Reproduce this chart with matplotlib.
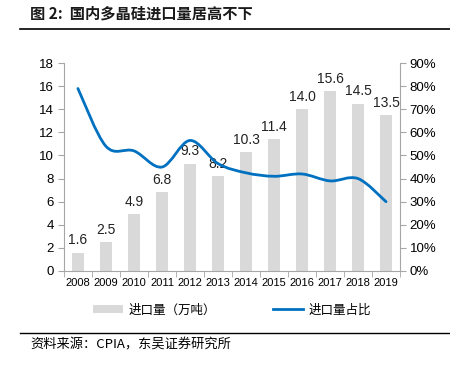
import matplotlib
matplotlib.use("Agg")
import matplotlib.pyplot as plt
from matplotlib.path import Path
from matplotlib.patches import PathPatch
from matplotlib.lines import Line2D
from matplotlib.patches import Patch
import numpy as np

plt.rcParams['font.family'] = ['Liberation Sans', 'Noto Sans CJK SC', 'DejaVu Sans']

years = ['2008', '2009', '2010', '2011', '2012', '2013', '2014', '2015', '2016', '2017', '2018', '2019']
import_volume = [1.6, 2.5, 4.9, 6.8, 9.3, 8.2, 10.3, 11.4, 14.0, 15.6, 14.5, 13.5]
import_share = [79, 54, 52, 45, 56.5, 46.5, 42.5, 41, 42, 39, 40, 30]

gray = '#d9d9d9'
blue = '#0070c0'
spine_c = '#a6a6a6'
cjk = ['Noto Sans CJK SC', 'DejaVu Sans']


def smooth_path(xs, ys, t=1 / 6):
    # Excel-like smoothed line: cubic bezier with Catmull-Rom control points
    pts = np.column_stack([xs, ys]).astype(float)
    verts = [pts[0]]
    codes = [Path.MOVETO]
    n = len(pts)
    for i in range(n - 1):
        p0 = pts[max(i - 1, 0)]
        p1 = pts[i]
        p2 = pts[i + 1]
        p3 = pts[min(i + 2, n - 1)]
        c1 = p1 + (p2 - p0) * t
        c2 = p2 - (p3 - p1) * t
        verts += [c1, c2, p2]
        codes += [Path.CURVE4] * 3
    return Path(verts, codes)


fig = plt.figure(figsize=(4.5, 3.69), dpi=100)
ax = fig.add_axes([0.142, 0.2656, 0.747, 0.5634])
x = np.arange(len(years))

ax.bar(x, import_volume, width=0.4, color=gray, zorder=1)
for xi, v in zip(x, import_volume):
    ax.text(xi, v + 0.45, f"{v:.1f}", ha='center', va='bottom', fontsize=10, color='#222222', zorder=4)

ax.set_ylim(0, 18)
ax.set_yticks(range(0, 19, 2))
ax.set_xlim(-0.5, len(years) - 0.5)
ax.set_xticks(x)
ax.set_xticklabels(years, fontsize=8)
ax.set_xticks(np.arange(-0.5, len(years), 1), minor=True)
ax.tick_params(axis='x', which='major', length=0, pad=5)
ax.tick_params(axis='x', which='minor', length=4, color=spine_c, direction='out')
ax.tick_params(axis='y', labelsize=9.5, length=4, color=spine_c, pad=3)
for s in ['top', 'right']:
    ax.spines[s].set_visible(False)
for s in ['left', 'bottom']:
    ax.spines[s].set_color(spine_c)

ax2 = ax.twinx()
ax2.set_ylim(0, 90)
ax2.set_yticks(range(0, 91, 10))
ax2.set_yticklabels([f"{v}%" for v in range(0, 91, 10)])
ax2.tick_params(axis='y', labelsize=9.5, length=4, color=spine_c, pad=3)
for s in ['top', 'left', 'bottom']:
    ax2.spines[s].set_visible(False)
ax2.spines['right'].set_color(spine_c)
ax2.add_patch(PathPatch(smooth_path(x, import_share), facecolor='none', edgecolor=blue,
                        linewidth=2.0, capstyle='round', zorder=3))

# title and rules
fig.text(0.067, 0.962, "图 2:  国内多晶硅进口量居高不下", fontsize=11, fontweight='bold',
         family=cjk, color='#1a1a1a', va='center')
fig.add_artist(Line2D([0.045, 1.0], [0.921, 0.921], color='black', linewidth=1.2))
fig.add_artist(Line2D([0.045, 1.0], [0.098, 0.098], color='black', linewidth=1.0))

handles = [Patch(facecolor=gray, edgecolor='none'), Line2D([], [], color=blue, linewidth=2.0)]
fig.legend(handles, ["进口量（万吨）", "进口量占比"], loc='center', bbox_to_anchor=(0.516, 0.16),
           ncol=2, frameon=False, prop={'family': cjk, 'size': 9}, columnspacing=4.6,
           handlelength=2.4, handletextpad=0.4)

fig.text(0.067, 0.065, "资料来源：CPIA，东吴证券研究所", fontsize=9.5, family=cjk, va='center')

fig.savefig("out.png", dpi=100)
